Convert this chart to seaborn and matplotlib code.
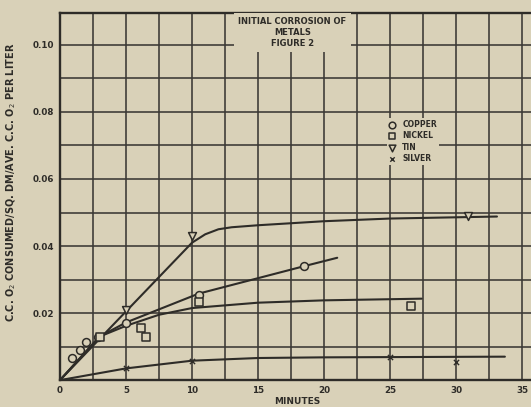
import numpy as np
import pandas as pd
import matplotlib
matplotlib.use("Agg")
import matplotlib.pyplot as plt
import seaborn as sns

copper_x = [0.9, 1.5, 2.0, 2.9, 5.0, 10.5, 18.5]
copper_y = [0.0066, 0.0090, 0.0113, 0.0128, 0.0170, 0.0254, 0.0340]
nickel_x = [3.0, 6.1, 6.5, 10.5, 26.6]
nickel_y = [0.0128, 0.0155, 0.0128, 0.0233, 0.0220]
tin_x = [5.0, 10.0, 30.9]
tin_y = [0.0210, 0.0430, 0.0490]
silver_x = [5.0, 10.0, 25.0, 30.0]
silver_y = [0.0036, 0.0057, 0.0069, 0.0055]

# hand drawn curves
tin_curve_x = [0, 5, 10, 11, 12, 13, 15, 20, 25, 33.1]
tin_curve_y = [0, 0.0205, 0.0410, 0.0435, 0.0450, 0.0456, 0.0462, 0.0474, 0.0482, 0.0488]
copper_curve_x = [0, 3, 5, 10.5, 18.5, 21.0]
copper_curve_y = [0, 0.0130, 0.0172, 0.0258, 0.0340, 0.0365]
nickel_curve_x = [0, 3, 5, 7.5, 10, 15, 20, 27.4]
nickel_curve_y = [0, 0.0130, 0.0162, 0.0195, 0.0215, 0.0231, 0.0238, 0.0243]
silver_curve_x = [0, 5, 10, 15, 20, 33.7]
silver_curve_y = [0, 0.0035, 0.0058, 0.0066, 0.0068, 0.0070]

legend_labels = ["COPPER", "NICKEL", "TIN", "SILVER"]

bg = "#d9d1b8"
ink = "#2e2c28"

sns.set_style("white", {"axes.facecolor": bg, "figure.facecolor": bg})
plt.rcParams["font.family"] = ["DejaVu Sans"]

fig = plt.figure(figsize=(5.31, 4.07), dpi=100)
ax = fig.add_axes([0.113, 0.066, 0.895, 0.902])

curves = pd.concat([
    pd.DataFrame({"x": tin_curve_x, "y": tin_curve_y, "metal": "tin"}),
    pd.DataFrame({"x": copper_curve_x, "y": copper_curve_y, "metal": "copper"}),
    pd.DataFrame({"x": nickel_curve_x, "y": nickel_curve_y, "metal": "nickel"}),
    pd.DataFrame({"x": silver_curve_x, "y": silver_curve_y, "metal": "silver"}),
])
for metal, grp in curves.groupby("metal"):
    xs = np.array(grp["x"])
    ys = np.array(grp["y"])
    sns.lineplot(x=xs, y=ys, ax=ax, color=ink, lw=1.5, sort=False, zorder=3)

pts = [
    (copper_x, copper_y, "o", legend_labels[0]),
    (nickel_x, nickel_y, "s", legend_labels[1]),
    (tin_x, tin_y, "v", legend_labels[2]),
    (silver_x, silver_y, "x", legend_labels[3]),
]
for xs, ys, mk, lab in pts:
    if mk == "x":
        sns.scatterplot(x=xs, y=ys, ax=ax, marker="x", color=ink, s=14,
                        linewidth=1.0, label=lab, zorder=4)
    else:
        sns.scatterplot(x=xs, y=ys, ax=ax, marker=mk, facecolor=bg,
                        edgecolor=ink, s=32, linewidth=1.1, label=lab, zorder=4)

ax.set_xlim(0, 36)
ax.set_ylim(0, 0.1095)
ax.set_xticks(np.arange(0, 36, 5))
ax.set_xticks(np.arange(2.5, 36, 5), minor=True)
ax.set_yticks([0.02, 0.04, 0.06, 0.08, 0.10])
ax.set_yticks([0.01, 0.03, 0.05, 0.07, 0.09], minor=True)
ax.set_xticklabels([str(v) for v in range(0, 36, 5)], fontweight="bold")
ax.set_yticklabels(["0.02", "0.04", "0.06", "0.08", "0.10"], fontweight="bold")
ax.grid(True, which="both", color="#3a3834", lw=1.15, zorder=1)
ax.set_axisbelow(True)
ax.tick_params(which="both", length=0, labelsize=6.3, colors=ink, pad=4)
for s in ["left", "bottom", "top"]:
    ax.spines[s].set_color(ink)
    ax.spines[s].set_linewidth(1.7)
ax.spines["right"].set_visible(False)

ax.set_xlabel("MINUTES", fontsize=6.5, color=ink, labelpad=2, fontweight="bold")
ax.set_ylabel("C.C. O$_2$ CONSUMED/SQ. DM/AVE. C.C. O$_2$ PER LITER",
              fontsize=7, color=ink, fontweight="bold")
ax.yaxis.set_label_coords(-0.088, 0.54)

ax.text(17.6, 0.1037, "INITIAL CORROSION OF\nMETALS\nFIGURE 2", ha="center",
        va="center", fontsize=6, color=ink, linespacing=1.25, zorder=5,
        fontweight="bold", bbox=dict(facecolor=bg, edgecolor="none", pad=3))

leg = ax.legend(loc="upper left", bbox_to_anchor=(0.68, 0.725), frameon=True,
                fontsize=5.5, handletextpad=0.9, labelspacing=0.3,
                borderpad=0.3, handlelength=0.8, markerscale=0.85)
leg.get_frame().set_facecolor(bg)
leg.get_frame().set_edgecolor("none")
leg.get_frame().set_alpha(1)
for t in leg.get_texts():
    t.set_color(ink)
    t.set_fontweight("bold")

fig.savefig("out.png", dpi=100, facecolor=bg)
